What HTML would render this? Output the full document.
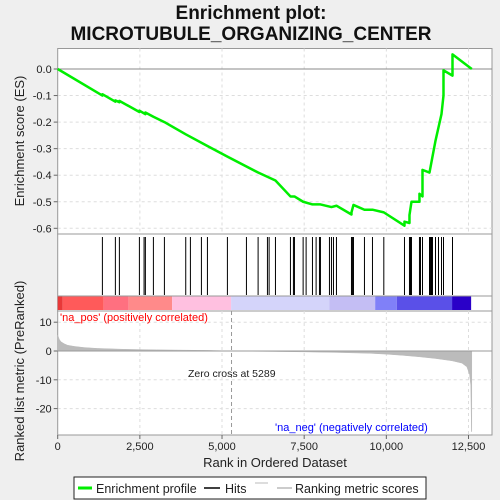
<!DOCTYPE html>
<html><head><meta charset="utf-8"><style>
body{margin:0;background:#efefef;}
svg{display:block;font-family:"Liberation Sans","DejaVu Sans",sans-serif;}
</style></head><body>
<svg id="c" width="500" height="500" viewBox="0 0 500 500">
<text x="251" y="19" text-anchor="middle" font-size="19" font-weight="bold" fill="#111">Enrichment plot:</text>
<text x="251" y="40" text-anchor="middle" font-size="19" font-weight="bold" fill="#111">MICROTUBULE_ORGANIZING_CENTER</text>
<g id="g"></g>
</svg>
<script>
const xTicks=[0,2500,5000,7500,10000,12500];
const xTickLabels=["0","2,500","5,000","7,500","10,000","12,500"];
const esTicks=[0,-0.1,-0.2,-0.3,-0.4,-0.5,-0.6];
const esTickLabels=["0.0","-0.1","-0.2","-0.3","-0.4","-0.5","-0.6"];
const mTicks=[10,0,-10,-20];
const hits=[1360,1755,1877,2486,2628,2668,2912,3247,3896,4038,4373,4556,5164,5743,6098,6382,6433,6626,7082,7173,7204,7468,7559,7752,7863,7965,7995,8269,8330,8391,8482,8939,8969,9000,9334,9578,9923,10552,10704,10735,10765,11008,11039,11100,11313,11343,11374,11404,11496,11587,11678,11739,12013];
const esRanks=[0,1360,1360,1755,1755,1877,1877,2486,2486,2668,2668,2912,3247,3896,4556,5164,6098,6626,7082,7204,7468,7752,7995,8330,8482,8939,8939,9000,9334,9578,9923,10552,10552,10704,10704,10765,11008,11008,11100,11100,11313,11404,11496,11587,11678,11739,11739,12013,12013,12600];
const esValues=[0,-0.1,-0.095,-0.123,-0.118,-0.125,-0.12,-0.162,-0.157,-0.17,-0.164,-0.18,-0.2,-0.246,-0.29,-0.33,-0.39,-0.42,-0.48,-0.48,-0.5,-0.51,-0.51,-0.52,-0.515,-0.548,-0.54,-0.512,-0.53,-0.53,-0.54,-0.59,-0.575,-0.58,-0.55,-0.5,-0.5,-0.47,-0.48,-0.38,-0.39,-0.33,-0.27,-0.22,-0.17,-0.1,-0.005,-0.025,0.055,0];
const mRanks=[0,50,100,200,300,500,800,1200,2000,3000,4600,5289,6000,7500,8500,9500,10000,10500,11000,11500,12000,12300,12450,12530,12570,12590,12600];
const mValues=[5.5,4,3.2,2.5,2,1.6,1.2,0.9,0.6,0.4,0.2,0,-0.1,-0.3,-0.5,-0.8,-1.1,-1.5,-2,-2.6,-3.4,-4.2,-5.5,-8,-12,-28,-28];
const barStops=[0,150,1400,2160,3480,5276,8270,9660,10320,12000,12580];
const barColors=["#e83838","#ff5a5a","#ff7080","#ff8a8a","#ffc0e0","#d4d4fa","#c4bef4","#8080f8","#5a50e8","#2a00c8"];
const NS="http://www.w3.org/2000/svg";
const g=document.getElementById('g');
const L=57.7,R=492,x=r=>L+r*(410.8/12500);
const yE=v=>69-v*265.5;
const yM=v=>351-v*2.88;
function el(t,a,p){const e=document.createElementNS(NS,t);for(const k in a)e.setAttribute(k,a[k]);(p||g).appendChild(e);return e;}
// panels
let p1=el('rect',{x:L,y:48.5,width:R-L,height:185.5,fill:'#fff',stroke:'#999'});


let p2=el('rect',{x:L,y:234,width:R-L,height:77,fill:'#fff',stroke:'#999'});


let p3=el('rect',{x:L,y:311,width:R-L,height:124,fill:'#fff',stroke:'#999'});


// grids
xTicks.forEach((t,i)=>{
 if(i>0){[[48.5,234],[311,435]].forEach(([a,b])=>{const l=el('line',{x1:x(t),x2:x(t),y1:a,y2:b,stroke:'#ddd','stroke-dasharray':'3,3'});});}
 el('line',{x1:x(t),x2:x(t),y1:435,y2:439,stroke:'#666'});
 const tx=el('text',{x:x(t),y:450,'text-anchor':'middle','font-size':11,fill:'#222'});tx.textContent=xTickLabels[i];
 
 
});
esTicks.forEach((t,i)=>{
 if(i>0){const l=el('line',{x1:L,x2:R,y1:yE(t),y2:yE(t),stroke:'#ddd','stroke-dasharray':'3,3'});}
 el('line',{x1:L-4,x2:L,y1:yE(t),y2:yE(t),stroke:'#666'});
 const tx=el('text',{x:L-6,y:yE(t)+4,'text-anchor':'end','font-size':11,fill:'#222'});tx.textContent=esTickLabels[i];
 
 
});
el('line',{x1:L,x2:R,y1:yE(0),y2:yE(0),stroke:'#888'});
mTicks.forEach(t=>{
 if(t!==0){const l=el('line',{x1:L,x2:R,y1:yM(t),y2:yM(t),stroke:'#ddd','stroke-dasharray':'3,3'});}
 el('line',{x1:L-4,x2:L,y1:yM(t),y2:yM(t),stroke:'#666'});
 const tx=el('text',{x:L-6,y:yM(t)+4,'text-anchor':'end','font-size':11,fill:'#222'});tx.textContent=String(t);
 
 
});
// zero-cross
const zc=el('line',{x1:x(5289),x2:x(5289),y1:311,y2:435,stroke:'#999','stroke-dasharray':'4,3'});


// metric area
let d='M'+x(mRanks[0])+','+yM(0);
mRanks.forEach((r,i)=>{d+=' L'+x(r)+','+yM(mValues[i]);});
d+=' L'+x(mRanks[mRanks.length-1])+','+yM(0)+' Z';
const ar=el('path',{d:d,fill:'#bbb',stroke:'#bbb','stroke-width':0.5});


el('line',{x1:L,x2:R,y1:yM(0),y2:yM(0),stroke:'#999'});
// color bar
barColors.forEach((c,i)=>{const r=el('rect',{x:x(barStops[i]),y:296,width:x(barStops[i+1])-x(barStops[i]),height:14,fill:c});
 
 });
el('line',{x1:L,x2:R,y1:296,y2:296,stroke:'#999'});
// hits
hits.forEach(h=>{const l=el('line',{x1:x(h),x2:x(h),y1:237,y2:295,stroke:'#000','stroke-width':1});
 
 });
// ES line
const pts=esRanks.map((r,i)=>x(r)+','+yE(esValues[i])).join(' ');
const pl=el('polyline',{points:pts,fill:'none',stroke:'#00ee00','stroke-width':2.5,'stroke-linejoin':'round'});


// labels
function txt(s,a,name){const t=el('text',a);t.textContent=s;return t;}
txt("'na_pos' (positively correlated)",{x:60,y:321,'font-size':11,fill:'#f00'},'na-pos-label');
txt("'na_neg' (negatively correlated)",{x:275,y:431,'font-size':11,fill:'#00f'},'na-neg-label');
txt("Zero cross at 5289",{x:188,y:377,'font-size':10.5,fill:'#222'},'zero-cross-label');
txt("Rank in Ordered Dataset",{x:275,y:467,'text-anchor':'middle','font-size':13,fill:'#222'},'x-axis-title');
txt("Enrichment score (ES)",{x:0,y:0,'text-anchor':'middle','font-size':13,fill:'#222',transform:'translate(24,141) rotate(-90)'},'es-axis-title');
txt("Ranked list metric (PreRanked)",{x:0,y:0,'text-anchor':'middle','font-size':13,fill:'#222',transform:'translate(24,371) rotate(-90)'},'metric-axis-title');
// legend
const lg=el('g',{});


el('rect',{x:74,y:477,width:352,height:22,fill:'#fff',stroke:'#222'},lg);
el('line',{x1:78,x2:92,y1:488,y2:488,stroke:'#00ee00','stroke-width':3},lg);
txt("Enrichment profile",{x:96,y:493,'font-size':12.5,fill:'#222'},'legend-enrichment-profile');
el('line',{x1:204,x2:220,y1:488,y2:488,stroke:'#000','stroke-width':1.5},lg);
txt("Hits",{x:225,y:493,'font-size':12.5,fill:'#222'},'legend-hits');
el('line',{x1:255,x2:268,y1:483,y2:483,stroke:'#bbb'},lg);
el('line',{x1:277,x2:292,y1:488,y2:488,stroke:'#bbb','stroke-width':1.5},lg);
txt("Ranking metric scores",{x:295,y:493,'font-size':12.5,fill:'#222'},'legend-ranking-metric');
</script>
</body></html>
